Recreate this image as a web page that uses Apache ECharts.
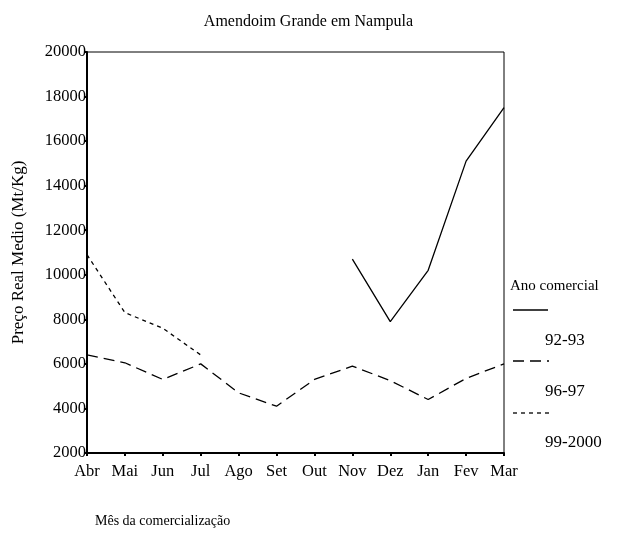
<!DOCTYPE html>
<html>
<head>
<meta charset="utf-8">
<script src="https://cdn.jsdelivr.net/npm/echarts@6/dist/echarts.min.js"></script>
<style>html,body{margin:0;padding:0;background:#fff}#c{width:617px;height:535px}</style>
</head>
<body>
<div id="c"></div>
<script>
const months = ['Abr','Mai','Jun','Jul','Ago','Set','Out','Nov','Dez','Jan','Fev','Mar'];
const s9293 = [null,null,null,null,null,null,null,10700,7900,10200,15100,17500];
const s9697 = [6400,6050,5300,6000,4700,4100,5300,5900,5250,4400,5350,6000];
const s9900 = [10900,8300,7600,6400,null,null,null,null,null,null,null,null];
const seriesNames = ['92-93','96-97','99-2000'];
const yTicks = [2000,4000,6000,8000,10000,12000,14000,16000,18000,20000];

const FONT = 'Liberation Serif';
const chart = echarts.init(document.getElementById('c'), null, {renderer:'canvas'});
const lineStyleFor = [
  {color:'#000', width:1.3, type:'solid'},
  {color:'#000', width:1.3, type:[11,6]},
  {color:'#000', width:1.3, type:[4,4]}
];
const datas = [s9293, s9697, s9900];
chart.setOption({
  animation:false,
  backgroundColor:'#fff',
  title:{text:'Amendoim Grande em Nampula', left:'center', top:9,
    textStyle:{fontFamily:FONT, fontSize:16, fontWeight:'normal', color:'#000'}},
  grid:{left:87, right:113, top:52, bottom:82, show:true, borderColor:'#000', borderWidth:1},
  xAxis:{type:'category', data:months, boundaryGap:false,
    axisLine:{lineStyle:{color:'#000', width:2}},
    axisTick:{show:true, length:3, lineStyle:{color:'#000', width:2}},
    axisLabel:{fontFamily:FONT, fontSize:16.5, color:'#000', margin:10},
    splitLine:{show:false}},
  yAxis:{type:'value', min:yTicks[0], max:yTicks[yTicks.length-1], interval:2000,
    name:'Preço Real Medio (Mt/Kg)', nameLocation:'middle', nameGap:60, nameRotate:90,
    nameTextStyle:{fontFamily:FONT, fontSize:17, color:'#000'},
    axisLine:{show:true, lineStyle:{color:'#000', width:2}},
    axisTick:{show:true, length:2, lineStyle:{color:'#000', width:2}},
    axisLabel:{fontFamily:FONT, fontSize:16.5, color:'#000', margin:1,
      formatter:v=>String(v)},
    splitLine:{show:false}},
  series: datas.map((d,i)=>({
    name:seriesNames[i], type:'line', data:d, symbol:'none', connectNulls:false,
    lineStyle:lineStyleFor[i], silent:true
  })),
  graphic:[
    {type:'text', left:510, top:279, style:{text:'Ano comercial', font:'15px "Liberation Serif"', fill:'#000'}},
    {type:'line', shape:{x1:513,y1:310,x2:548,y2:310}, style:{stroke:'#000', lineWidth:1.3}},
    {type:'text', left:545, top:332, style:{text:seriesNames[0], font:'17px "Liberation Serif"', fill:'#000'}},
    {type:'line', shape:{x1:513,y1:361,x2:549,y2:361}, style:{stroke:'#000', lineWidth:1.3, lineDash:[11,6]}},
    {type:'text', left:545, top:383, style:{text:seriesNames[1], font:'17px "Liberation Serif"', fill:'#000'}},
    {type:'line', shape:{x1:513,y1:413,x2:549,y2:413}, style:{stroke:'#000', lineWidth:1.3, lineDash:[4,4]}},
    {type:'text', left:545, top:434, style:{text:seriesNames[2], font:'17px "Liberation Serif"', fill:'#000'}},
    {type:'text', left:95, top:514, style:{text:'Mês da comercialização', font:'14px "Liberation Serif"', fill:'#000'}}
  ]
});
</script>
</body>
</html>
